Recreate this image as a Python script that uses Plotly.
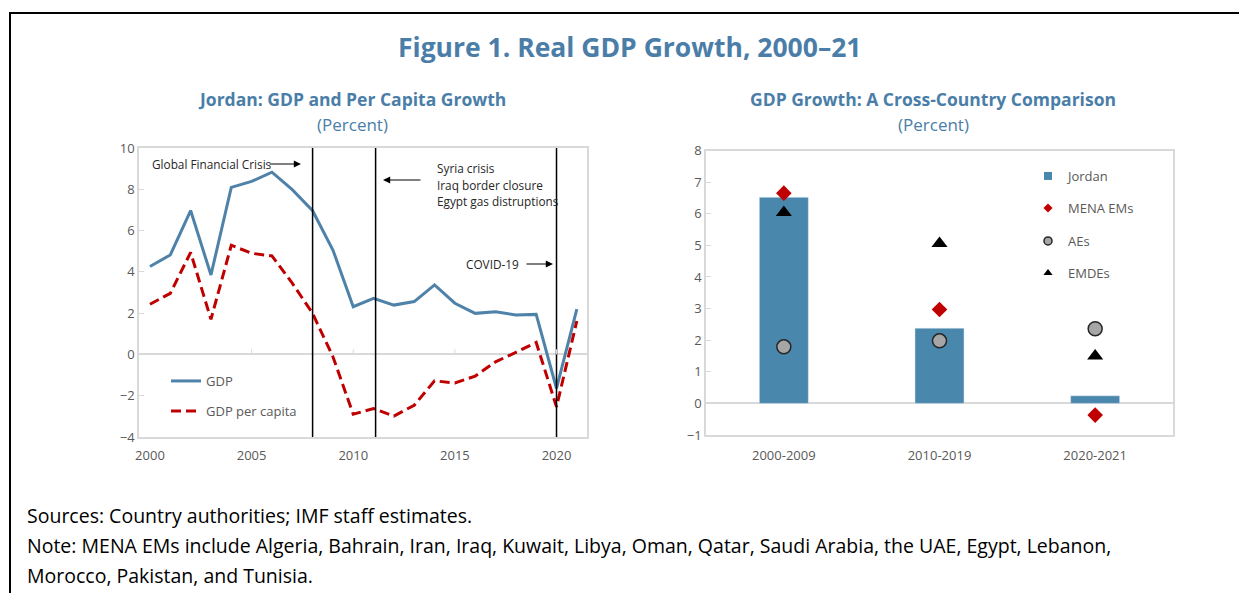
import plotly.graph_objects as go

# ---------------- data ----------------
years = list(range(2000, 2022))
gdp = [4.26, 4.82, 6.97, 3.85, 8.09, 8.38, 8.83, 7.98, 6.96, 5.06, 2.31, 2.72,
       2.39, 2.56, 3.37, 2.48, 1.99, 2.07, 1.91, 1.94, -1.65, 2.2]
gdp_pc = [2.43, 2.96, 4.94, 1.70, 5.29, 4.90, 4.77, 3.45, 1.99, -0.11, -2.90, -2.62,
          -2.99, -2.46, -1.28, -1.38, -1.05, -0.36, 0.10, 0.58, -2.54, 1.62]
event_years = [2008, 2011.1, 2020]

periods = ["2000-2009", "2010-2019", "2020-2021"]
jordan = [6.52, 2.38, 0.24]
mena = [6.65, 2.97, -0.37]
aes = [1.79, 1.98, 2.36]
emdes = [6.04, 5.06, 1.50]

left_ticks = [-4, -2, 0, 2, 4, 6, 8, 10]
right_ticks = list(range(-1, 9))
year_ticks = [2000, 2005, 2010, 2015, 2020]

# ---------------- styles ----------------
W, H = 1239, 593
BLUE_T = "#4a7ea8"
LINE_BLUE = "#4f82a9"
RED = "#c00000"
BAR = "#4a87ad"
GRAY_TXT = "#595959"
BOX = "#d9d9d9"
FONT = "Open Sans"


def px(x):
    return x / W


def py(y):
    return 1 - y / H


fig = go.Figure()

fig.add_trace(go.Scatter(x=years, y=gdp, mode="lines", name="GDP",
                         line=dict(color=LINE_BLUE, width=3),
                         xaxis="x", yaxis="y", legend="legend"))
fig.add_trace(go.Scatter(x=years, y=gdp_pc, mode="lines", name="GDP per capita",
                         line=dict(color=RED, width=3, dash="10px,5px"),
                         xaxis="x", yaxis="y", legend="legend2"))

fig.add_trace(go.Bar(x=periods, y=jordan, name="Jordan", marker_color=BAR,
                     width=0.315, xaxis="x2", yaxis="y2", showlegend=False))
fig.add_trace(go.Scatter(x=periods, y=mena, mode="markers", name="MENA EMs",
                         marker=dict(symbol="diamond", size=12, color=RED),
                         xaxis="x2", yaxis="y2", showlegend=False))
fig.add_trace(go.Scatter(x=periods, y=aes, mode="markers", name="AEs",
                         marker=dict(symbol="circle", size=14, color="#a6a6a6",
                                     line=dict(color="#262626", width=1.5)),
                         xaxis="x2", yaxis="y2", showlegend=False))
fig.add_trace(go.Scatter(x=periods, y=emdes, mode="markers", name="EMDEs",
                         marker=dict(symbol="triangle-up", size=14, color="black"),
                         xaxis="x2", yaxis="y2", showlegend=False))

# legend-only entries (small symbols as in the original legend)
legend_items = [
    ("Jordan", "square", 8, BAR, None, "legend3"),
    ("MENA EMs", "diamond", 7, RED, None, "legend4"),
    ("AEs", "circle", 8, "#a6a6a6", dict(color="#262626", width=1.5), "legend5"),
    ("EMDEs", "triangle-up", 8, "black", None, "legend6"),
]
for name, sym, size, col, lin, lg in legend_items:
    mk = dict(symbol=sym, size=size, color=col)
    if lin:
        mk["line"] = lin
    fig.add_trace(go.Scatter(x=[None], y=[None], mode="markers", name=name,
                             marker=mk, xaxis="x2", yaxis="y2", legend=lg))

axis_common = dict(showgrid=False, showline=True, mirror=True, linecolor=BOX,
                   linewidth=1.5, automargin=False,
                   tickfont=dict(family=FONT, size=13, color=GRAY_TXT))

shapes = []
for ey in event_years:
    shapes.append(dict(type="line", xref="x", yref="y domain", x0=ey, x1=ey,
                       y0=0, y1=1, line=dict(color="black", width=1.5)))
for ty in year_ticks[1:]:
    shapes.append(dict(type="line", xref="x", yref="y", x0=ty, x1=ty,
                       y0=0, y1=0.25, line=dict(color=BOX, width=1)))
# frame
shapes.append(dict(type="line", xref="paper", yref="paper", x0=px(9.5), x1=1,
                   y0=py(13), y1=py(13), line=dict(color="black", width=2)))
shapes.append(dict(type="line", xref="paper", yref="paper", x0=px(10), x1=px(10),
                   y0=py(12), y1=0, line=dict(color="black", width=2)))

ann = []


def text(x, y, s, size, color, bold=False, xanchor="center", family=FONT):
    ann.append(dict(xref="paper", yref="paper", x=px(x), y=py(y), text=s,
                    showarrow=False, xanchor=xanchor, yanchor="middle",
                    font=dict(family=family, size=size, color=color,
                              weight="bold" if bold else "normal")))


text(629, 47, "Figure 1. Real GDP Growth, 2000–21", 26.5, BLUE_T, bold=True)
text(352, 99, "Jordan: GDP and Per Capita Growth", 17.5, BLUE_T, bold=True)
text(352, 124, "(Percent)", 17, BLUE_T)
text(933, 99, "GDP Growth: A Cross-Country Comparison", 17.5, BLUE_T, bold=True)
text(933, 124, "(Percent)", 17, BLUE_T)

FN = 19.5
text(25, 515, "Sources: Country authorities; IMF staff estimates.", FN, "black", xanchor="left")
text(25, 545, "Note: MENA EMs include Algeria, Bahrain, Iran, Iraq, Kuwait, Libya, Oman, Qatar, "
     "Saudi Arabia, the UAE, Egypt, Lebanon,", FN, "black", xanchor="left")
text(25, 575, "Morocco, Pakistan, and Tunisia.", FN, "black", xanchor="left")

# event annotations (left chart)
ANN_C = "#262626"
AS = 11.8
text(150, 164, "Global Financial Crisis", AS, ANN_C, xanchor="left")
text(435, 168, "Syria crisis", AS, ANN_C, xanchor="left")
text(435, 185, "Iraq border closure", AS, ANN_C, xanchor="left")
text(435, 201, "Egypt gas distruptions", AS, ANN_C, xanchor="left")
text(464, 264, "COVID-19", AS, ANN_C, xanchor="left")


def arrow(x0, y0, x1, y1):
    ann.append(dict(xref="paper", yref="paper", x=px(x1), y=py(y1),
                    ax=x0 - x1, ay=y0 - y1, axref="pixel", ayref="pixel", text="",
                    showarrow=True, arrowhead=2, arrowsize=1.2, arrowwidth=1.2,
                    arrowcolor="black"))


arrow(268, 164, 301, 164)
arrow(422, 180, 383, 180)
arrow(525, 264, 553, 264)

leg_font = dict(family=FONT, size=13, color=GRAY_TXT)


def legend(x, y):
    return dict(x=px(x), y=py(y), xanchor="left", yanchor="middle",
                bgcolor="rgba(0,0,0,0)", font=leg_font, borderwidth=0,
                itemsizing="trace")


fig.update_layout(
    autosize=True, margin=dict(l=0, r=0, t=0, b=0, pad=0, autoexpand=False),
    paper_bgcolor="white", plot_bgcolor="white",
    showlegend=True,
    xaxis=dict(domain=[px(139), px(587)], range=[1999.46, 2021.5],
               tickvals=year_ticks, ticks="", anchor="y", ticklabelstandoff=6,
               **axis_common),
    yaxis=dict(domain=[py(437), py(148)], range=[-4, 10], tickvals=left_ticks,
               ticks="inside", ticklen=5, tickcolor=BOX, zeroline=True,
               zerolinecolor=BOX, zerolinewidth=1.5, anchor="x", **axis_common),
    xaxis2=dict(domain=[px(706), px(1173)], range=[-0.5, 2.5], ticks="",
                anchor="y2", ticklabelstandoff=8, **axis_common),
    yaxis2=dict(domain=[py(435), py(150.5)], range=[-1, 8], tickvals=right_ticks,
                ticks="inside", ticklen=5, tickcolor=BOX, zeroline=True,
                zerolinecolor=BOX, zerolinewidth=1.5, anchor="x2", **axis_common),
    legend=legend(166, 381),
    legend2=legend(166, 411),
    legend3=legend(1028, 176),
    legend4=legend(1028, 208),
    legend5=legend(1028, 241),
    legend6=legend(1028, 273),
    shapes=shapes,
    annotations=ann,
)

post = (
    "document.documentElement.style.height='100%';"
    "document.documentElement.style.margin='0';"
    "document.body.style.height='100%';"
    "document.body.style.margin='0';"
    "document.body.style.overflow='hidden';"
    "var gd=document.getElementById('{plot_id}');"
    "gd.style.width='100vw';gd.style.height='100vh';"
    "Plotly.Plots.resize(gd);"
)

fig.write_html("out.html", config={"displayModeBar": False},
               default_width="100vw", default_height="100vh",
               post_script=post)
